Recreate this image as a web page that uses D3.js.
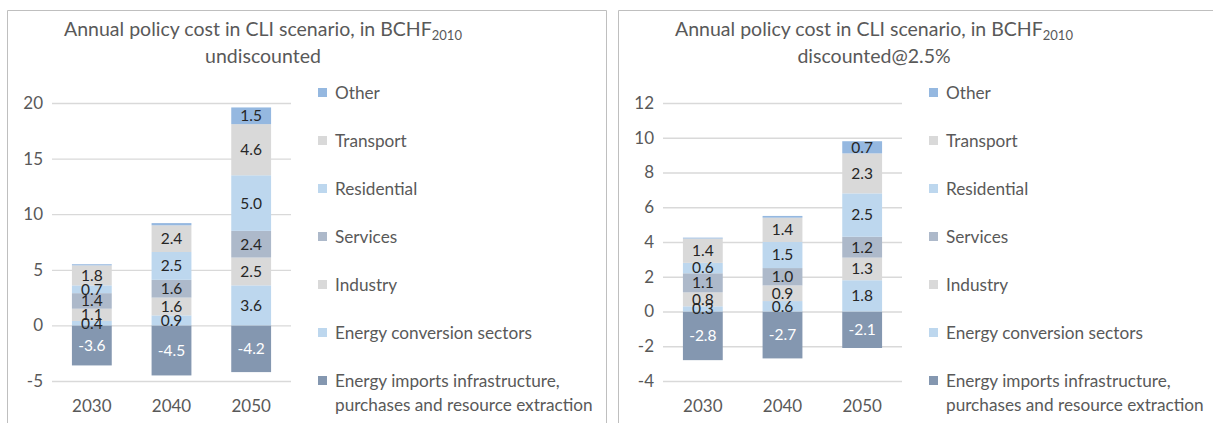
<!DOCTYPE html>
<html>
<head>
<meta charset="utf-8">
<script src="https://cdn.jsdelivr.net/npm/d3@7"></script>
<style>
  html, body { margin: 0; padding: 0; background: #fff; }
  svg { display: block; font-family: Lato, "Open Sans", sans-serif; }
</style>
</head>
<body>
<svg id="chart" width="1213" height="423"></svg>
<script>
// Years on the x axis
const years = ["2030", "2040", "2050"];

// Sectors, stacking order bottom to top
const sectors = [
  "Energy imports infrastructure, purchases and resource extraction",
  "Energy conversion sectors",
  "Industry",
  "Services",
  "Residential",
  "Transport",
  "Other"
];
const sectorColors = ["#8497b0", "#bdd7ee", "#d9d9d9", "#adb9ca", "#bdd7ee", "#d9d9d9", "#95b8e0"];

// Undiscounted annual policy cost (BCHF2010), one array per sector: 2030, 2040, 2050
const undImports     = [-3.6, -4.5, -4.2];
const undConversion  = [0.4, 0.9, 3.6];
const undIndustry    = [1.1, 1.6, 2.5];
const undServices    = [1.4, 1.6, 2.4];
const undResidential = [0.7, 2.5, 5.0];
const undTransport   = [1.8, 2.4, 4.6];
const undOther       = [0.1, 0.2, 1.5];

// Discounted at 2.5%
const discImports     = [-2.8, -2.7, -2.1];
const discConversion  = [0.3, 0.6, 1.8];
const discIndustry    = [0.8, 0.9, 1.3];
const discServices    = [1.1, 1.0, 1.2];
const discResidential = [0.6, 1.5, 2.5];
const discTransport   = [1.4, 1.4, 2.3];
const discOther       = [0.05, 0.1, 0.7];

// Axis ticks
const undTicks = [-5, 0, 5, 10, 15, 20];
const discTicks = [-4, -2, 0, 2, 4, 6, 8, 10, 12];

// Labels under this size are not printed inside a segment
const minLabel = 0.25;

// plain hyphen for negative numbers
const locale = d3.formatLocale({ decimal: ".", thousands: ",", grouping: [3], currency: ["", ""], minus: "-" });
const fmtVal = locale.format(".1f");
const fmtTick = locale.format("d");

const svg = d3.select("#chart");

function drawPanel(x0, subtitle, series, ticks, domain) {
  const g = svg.append("g").attr("transform", `translate(${x0},0)`);

  // frame (open at the bottom edge of the image)
  g.append("path")
    .attr("d", "M0.5,440 V10.5 H599.5 V440")
    .attr("fill", "none")
    .attr("stroke", "#bfbfbf")
    .attr("stroke-width", 1);

  // title
  const title = g.append("text")
    .attr("x", 256).attr("y", 36)
    .attr("text-anchor", "middle")
    .attr("fill", "#595959")
    .style("font-size", "19.5px");
  title.append("tspan").text("Annual policy cost in CLI scenario, in BCHF");
  title.append("tspan").attr("dy", 4).style("font-size", "13px").text("2010");
  g.append("text")
    .attr("x", 256).attr("y", 63)
    .attr("text-anchor", "middle")
    .attr("fill", "#595959")
    .style("font-size", "19.5px")
    .text(subtitle);

  const plotLeft = 45, plotRight = 284, plotTop = 103, plotBottom = 381;

  const x = d3.scaleBand().domain(years).range([plotLeft, plotRight]).paddingInner(0.5).paddingOuter(0.25);
  const y = d3.scaleLinear().domain(domain).range([plotBottom, plotTop]);

  // gridlines + tick labels
  const yAxis = d3.axisLeft(y).tickValues(ticks).tickFormat(fmtTick)
    .tickSize(-(plotRight - plotLeft)).tickPadding(8);
  const ya = g.append("g").attr("transform", `translate(${plotLeft},0)`).call(yAxis);
  ya.select(".domain").remove();
  ya.selectAll(".tick line").attr("stroke", "#d9d9d9").attr("stroke-width", 1.3);
  ya.selectAll(".tick text")
    .attr("fill", "#595959")
    .attr("x", -9)
    .style("font-size", "17px")
    .style("font-family", "Lato, 'Open Sans', sans-serif");

  // x axis labels
  const xAxis = d3.axisBottom(x).tickSize(0).tickPadding(0);
  const xa = g.append("g").attr("transform", `translate(0,${plotBottom + 18})`).call(xAxis);
  xa.select(".domain").remove();
  xa.selectAll(".tick text")
    .attr("fill", "#595959")
    .attr("dy", "0.75em")
    .style("font-size", "17px")
    .style("font-family", "Lato, 'Open Sans', sans-serif");

  // stack: positives upward from zero, negatives downward
  const rows = years.map((yr, i) => {
    const r = { year: yr };
    sectors.forEach((s, k) => { r[s] = series[k][i]; });
    return r;
  });
  const stacked = d3.stack().keys(sectors).offset(d3.stackOffsetDiverging)(rows);

  const layers = g.append("g").selectAll("g")
    .data(stacked)
    .join("g")
    .attr("fill", (d, k) => sectorColors[k]);

  layers.selectAll("rect")
    .data(d => d.map(p => ({ p, key: d.key })))
    .join("rect")
    .attr("x", d => x(d.p.data.year))
    .attr("width", x.bandwidth())
    .attr("y", d => y(Math.max(d.p[0], d.p[1])))
    .attr("height", d => Math.abs(y(d.p[0]) - y(d.p[1])));

  // value labels
  const lab = g.append("g");
  stacked.forEach((layer, k) => {
    layer.forEach(p => {
      const v = p.data[layer.key];
      if (Math.abs(v) < minLabel) return;
      lab.append("text")
        .attr("x", x(p.data.year) + x.bandwidth() / 2)
        .attr("y", y((p[0] + p[1]) / 2))
        .attr("dy", "0.35em")
        .attr("text-anchor", "middle")
        .attr("fill", v < 0 ? "#ffffff" : "#262626")
        .style("font-size", "15.5px")
        .text(fmtVal(v));
    });
  });

  // legend, top entry is the top of the stack
  const legendRows = sectors.map((s, k) => ({ s, k })).reverse();
  const lg = g.append("g");
  legendRows.forEach((d, i) => {
    const cy = 93 + i * 48;
    lg.append("rect")
      .attr("x", 311).attr("y", cy - 5)
      .attr("width", 9).attr("height", 9)
      .attr("fill", sectorColors[d.k]);
    const t = lg.append("text")
      .attr("x", 328).attr("y", cy)
      .attr("dy", "0.35em")
      .attr("fill", "#595959")
      .style("font-size", "17.2px");
    if (d.k === 0) {
      t.append("tspan").text("Energy imports infrastructure,");
      t.append("tspan").attr("x", 328).attr("dy", 24).text("purchases and resource extraction");
    } else {
      t.text(d.s);
    }
  });
}

drawPanel(7, "undiscounted",
  [undImports, undConversion, undIndustry, undServices, undResidential, undTransport, undOther],
  undTicks, [-5, 20]);

drawPanel(618, "discounted@2.5%",
  [discImports, discConversion, discIndustry, discServices, discResidential, discTransport, discOther],
  discTicks, [-4, 12]);
</script>
</body>
</html>
